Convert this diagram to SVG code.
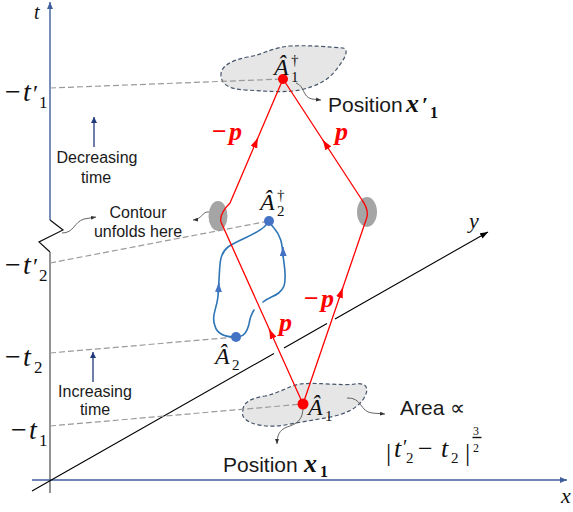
<svg xmlns="http://www.w3.org/2000/svg" width="573" height="512" viewBox="0 0 573 512">
<style>
.sans{font-family:"Liberation Sans",Arial,sans-serif;fill:#1a1a1a}
.m{font-family:"Liberation Serif","Times New Roman",serif;fill:#111}
.i{font-style:italic}
.bi{font-style:italic;font-weight:bold}
.rp{font-family:"Liberation Serif","Times New Roman",serif;font-weight:bold;fill:#ff0000;font-size:26px}
.dash{stroke:#9a9a9a;stroke-width:1.2;stroke-dasharray:6 3;fill:none}
.red{stroke:#ff0000;stroke-width:1.3;fill:none;stroke-linejoin:round}
.ra{stroke:#ff0000;stroke-width:1.3;fill:none;marker-end:url(#ra)}
.blue{stroke:#2e75b6;stroke-width:1.6;fill:none;stroke-linecap:round}
.ba{stroke:#2e75b6;stroke-width:1.6;fill:none;marker-end:url(#ba)}
.ann{stroke:#555;stroke-width:0.9;fill:none;marker-end:url(#sa)}
.cloud{fill:#e7e6e6;stroke:#44546a;stroke-width:1.2;stroke-dasharray:4 2.5}
.ell{fill:#a5a5a5}
.axb{stroke:#3e5f9c;stroke-width:1.4;fill:none}
.tarr{stroke:#1f3a7a;stroke-width:1.3;fill:none;marker-end:url(#na)}
.tk{font-size:28px}
</style>
<defs>
<marker id="axm" markerWidth="7" markerHeight="6" refX="7" refY="3" orient="auto" markerUnits="userSpaceOnUse"><path d="M0,0 L7,3 L0,6 Z" fill="#3e5f9c"/></marker>
<marker id="ayk" markerWidth="8" markerHeight="6" refX="8" refY="3" orient="auto" markerUnits="userSpaceOnUse"><path d="M0,0 L8,3 L0,6 Z" fill="#000"/></marker>
<marker id="ra" markerWidth="10" markerHeight="7" refX="10" refY="3.5" orient="auto" markerUnits="userSpaceOnUse"><path d="M0,0 L10,3.5 L0,7 Z" fill="#ff0000"/></marker>
<marker id="ba" markerWidth="9" markerHeight="7" refX="9" refY="3.5" orient="auto" markerUnits="userSpaceOnUse"><path d="M0,0 L9,3.5 L0,7 Z" fill="#4472c4"/></marker>
<marker id="sa" markerWidth="5" markerHeight="4" refX="5" refY="2" orient="auto" markerUnits="userSpaceOnUse"><path d="M0,0 L5,2 L0,4 Z" fill="#333"/></marker>
<marker id="na" markerWidth="6" markerHeight="6" refX="6" refY="3" orient="auto" markerUnits="userSpaceOnUse"><path d="M0,0 L6,3 L0,6 Z" fill="#1f3a7a"/></marker>
</defs>
<rect width="573" height="512" fill="#fff"/>

<g id="axes">
  <path class="axb" d="M50,220 L50,2" marker-end="url(#axm)"/>
  <path d="M50,220 L63,230 L39,242 L50,252" stroke="#111" stroke-width="1.2" fill="none"/>
  <path d="M50,252 L50,493" stroke="#666" stroke-width="1.4" fill="none"/>
  <path class="axb" d="M32,480 L567,480" marker-end="url(#axm)"/>
  <path d="M32,491 L274,353.5 M284,347.9 L327,323.4 M335,318.9 L488,232" stroke="#000" stroke-width="1.1" fill="none" marker-end="url(#ayk)"/>
  <text class="m i" x="34" y="19" font-size="20">t</text>
  <text class="m i" x="561" y="503" font-size="22">x</text>
  <text class="m i" x="469" y="228" font-size="22">y</text>
</g>

<g id="ticks">
  <text class="m tk" y="101"><tspan x="5">−</tspan><tspan x="23" class="i">t</tspan><tspan x="33" font-size="24">′</tspan><tspan x="39" y="108" font-size="17">1</tspan></text>
  <text class="m tk" y="274"><tspan x="5">−</tspan><tspan x="23" class="i">t</tspan><tspan x="33" font-size="24">′</tspan><tspan x="39" y="281" font-size="17">2</tspan></text>
  <text class="m tk" y="366"><tspan x="5">−</tspan><tspan x="23" class="i">t</tspan><tspan x="34" y="373" font-size="17">2</tspan></text>
  <text class="m tk" y="439"><tspan x="11">−</tspan><tspan x="29" class="i">t</tspan><tspan x="39" y="446" font-size="17">1</tspan></text>
</g>

<g id="time-labels">
  <path class="tarr" d="M94,147 L94,117"/>
  <text class="sans" font-size="16" text-anchor="middle" x="97" y="163">Decreasing</text>
  <text class="sans" font-size="16" text-anchor="middle" x="96" y="183">time</text>
  <path class="tarr" d="M93,382 L93,352"/>
  <text class="sans" font-size="16" text-anchor="middle" x="95" y="397">Increasing</text>
  <text class="sans" font-size="16" text-anchor="middle" x="95" y="415">time</text>
  <text class="sans" font-size="16" text-anchor="middle" x="138" y="218">Contour</text>
  <text class="sans" font-size="16" text-anchor="middle" x="138" y="237">unfolds here</text>
</g>

<g id="cloud-top">
  <path class="cloud" d="M221,76 C220,66 232,60 248,57 C262,55 270,48 290,46 C310,45 330,47 343,48 C350,50 344,60 336,70 C328,80 318,86 300,90 C285,93 265,91 245,90 C228,89 222,84 221,76 Z"/>
</g>
<g id="cloud-bottom">
  <path class="cloud" d="M243,410 C243,402 252,398 265,396 C280,393 288,386 300,384 C318,382 340,386 355,384 C368,382 369,390 364,398 C358,408 346,414 330,417 C315,420 300,422 285,425 C268,428 252,425 245,419 C242,416 242,413 243,410 Z"/>
</g>
<g id="ellipse-left"><ellipse class="ell" cx="218" cy="216" rx="9.5" ry="15"/></g>
<g id="ellipse-right"><ellipse class="ell" cx="367" cy="212" rx="10" ry="15"/></g>

<g id="connectors">
  <path class="dash" d="M50,88 L283,79"/>
  <path class="dash" d="M50,263 L269,221"/>
  <path class="dash" d="M50,353 L236,337"/>
  <path class="dash" d="M50,426 L303,404"/>
  <path class="blue" d="M236,337 C226,337 217,334 215,326 C211,316 217,308 218,296 L219,280 C220,265 219,254 228,247 C238,240 255,235 264,227 L269,222"/>
  <path class="blue" d="M236,337 C244,337 247,332 249,324 C250,318 252,313 254,310"/>
  <path class="blue" d="M263,302 C270,296 280,296 284,286 C287,276 284,265 283,255 C282,243 281,236 274,228 L269,222"/>
  <path class="ba" d="M218.4,293 L218.8,283"/>
  <path class="ba" d="M283.2,257 L283,247"/>
  <path class="red" d="M283,79 L230,203 Q219,214 221,222 L303,404"/>
  <path class="red" d="M283,79 L362,200 Q370,211 366,220 L303,404"/>
  <path class="ra" d="M254.3,146.3 L257.8,138"/>
  <path class="ra" d="M327.2,146.7 L322.8,140"/>
  <path class="ra" d="M272.5,336.3 L269.2,329"/>
  <path class="ra" d="M340.1,295.6 L342.7,288"/>
  <path class="ann" d="M296,83 C305,86 302,97 312,99 L321,100"/>
  <path class="ann" d="M62,233 C74,233 74,222 84,219 L96,217"/>
  <path class="ann" d="M209,212 C202,211 203,219 193,220"/>
  <path class="ann" d="M303,407 C303,420 297,424 287,427 C279,430 277,436 277,444"/>
  <path class="ann" d="M347,398 C362,397 360,412 372,413 L385,414"/>
</g>

<g id="p-labels">
  <text class="rp" y="140"><tspan x="212">−</tspan><tspan x="229" class="i">p</tspan></text>
  <text class="rp i" x="335" y="140">p</text>
  <text class="rp i" x="279" y="331">p</text>
  <text class="rp" y="307"><tspan x="304">−</tspan><tspan x="321" class="i">p</tspan></text>
</g>

<g id="node-A1dag">
  <circle cx="283" cy="79" r="5" fill="#ff0000"/>
  <text class="m i" x="274" y="75" font-size="24">Â</text>
  <text class="m" x="291" y="65" font-size="15">†</text>
  <text class="m" x="291" y="82" font-size="15">1</text>
  <text class="sans" x="328" y="112" font-size="21">Position</text>
  <text class="m bi" x="406" y="112" font-size="26">x</text>
  <text class="m" x="422" y="112" font-size="22" font-weight="bold">′</text>
  <text class="m" x="430" y="118" font-size="16" font-weight="bold">1</text>
</g>

<g id="node-A2dag">
  <circle cx="269" cy="221" r="5" fill="#4472c4"/>
  <text class="m i" x="260" y="210" font-size="24">Â</text>
  <text class="m" x="277" y="200" font-size="15">†</text>
  <text class="m" x="277" y="216" font-size="15">2</text>
</g>

<g id="node-A2">
  <circle cx="236" cy="337" r="5" fill="#4472c4"/>
  <text class="m i" x="215" y="364" font-size="24">Â</text>
  <text class="m" x="232" y="370" font-size="15">2</text>
</g>

<g id="node-A1">
  <circle cx="303" cy="404" r="5.5" fill="#ff0000"/>
  <text class="m i" x="308" y="415" font-size="24">Â</text>
  <text class="m" x="325" y="421" font-size="15">1</text>
  <text class="sans" x="223" y="472" font-size="21">Position</text>
  <text class="m bi" x="304" y="472" font-size="26">x</text>
  <text class="m" x="320" y="477" font-size="16" font-weight="bold">1</text>
</g>

<g id="area-label">
  <text class="sans" x="400" y="415" font-size="21">Area ∝</text>
  <text class="m" x="386" y="461" font-size="26">|</text>
  <text class="m i" x="394" y="457" font-size="26">t</text>
  <text class="m" x="403" y="454" font-size="20">′</text>
  <text class="m" x="406" y="463" font-size="15">2</text>
  <text class="m" x="418" y="457" font-size="26">−</text>
  <text class="m i" x="441" y="457" font-size="26">t</text>
  <text class="m" x="451" y="463" font-size="15">2</text>
  <text class="m" x="465" y="461" font-size="26">|</text>
  <text class="m" x="473" y="435" font-size="12">3</text>
  <path d="M472.5,437.5 L481.5,437.5" stroke="#111" stroke-width="1.4"/>
  <text class="m" x="473" y="452" font-size="12">2</text>
</g>
</svg>
